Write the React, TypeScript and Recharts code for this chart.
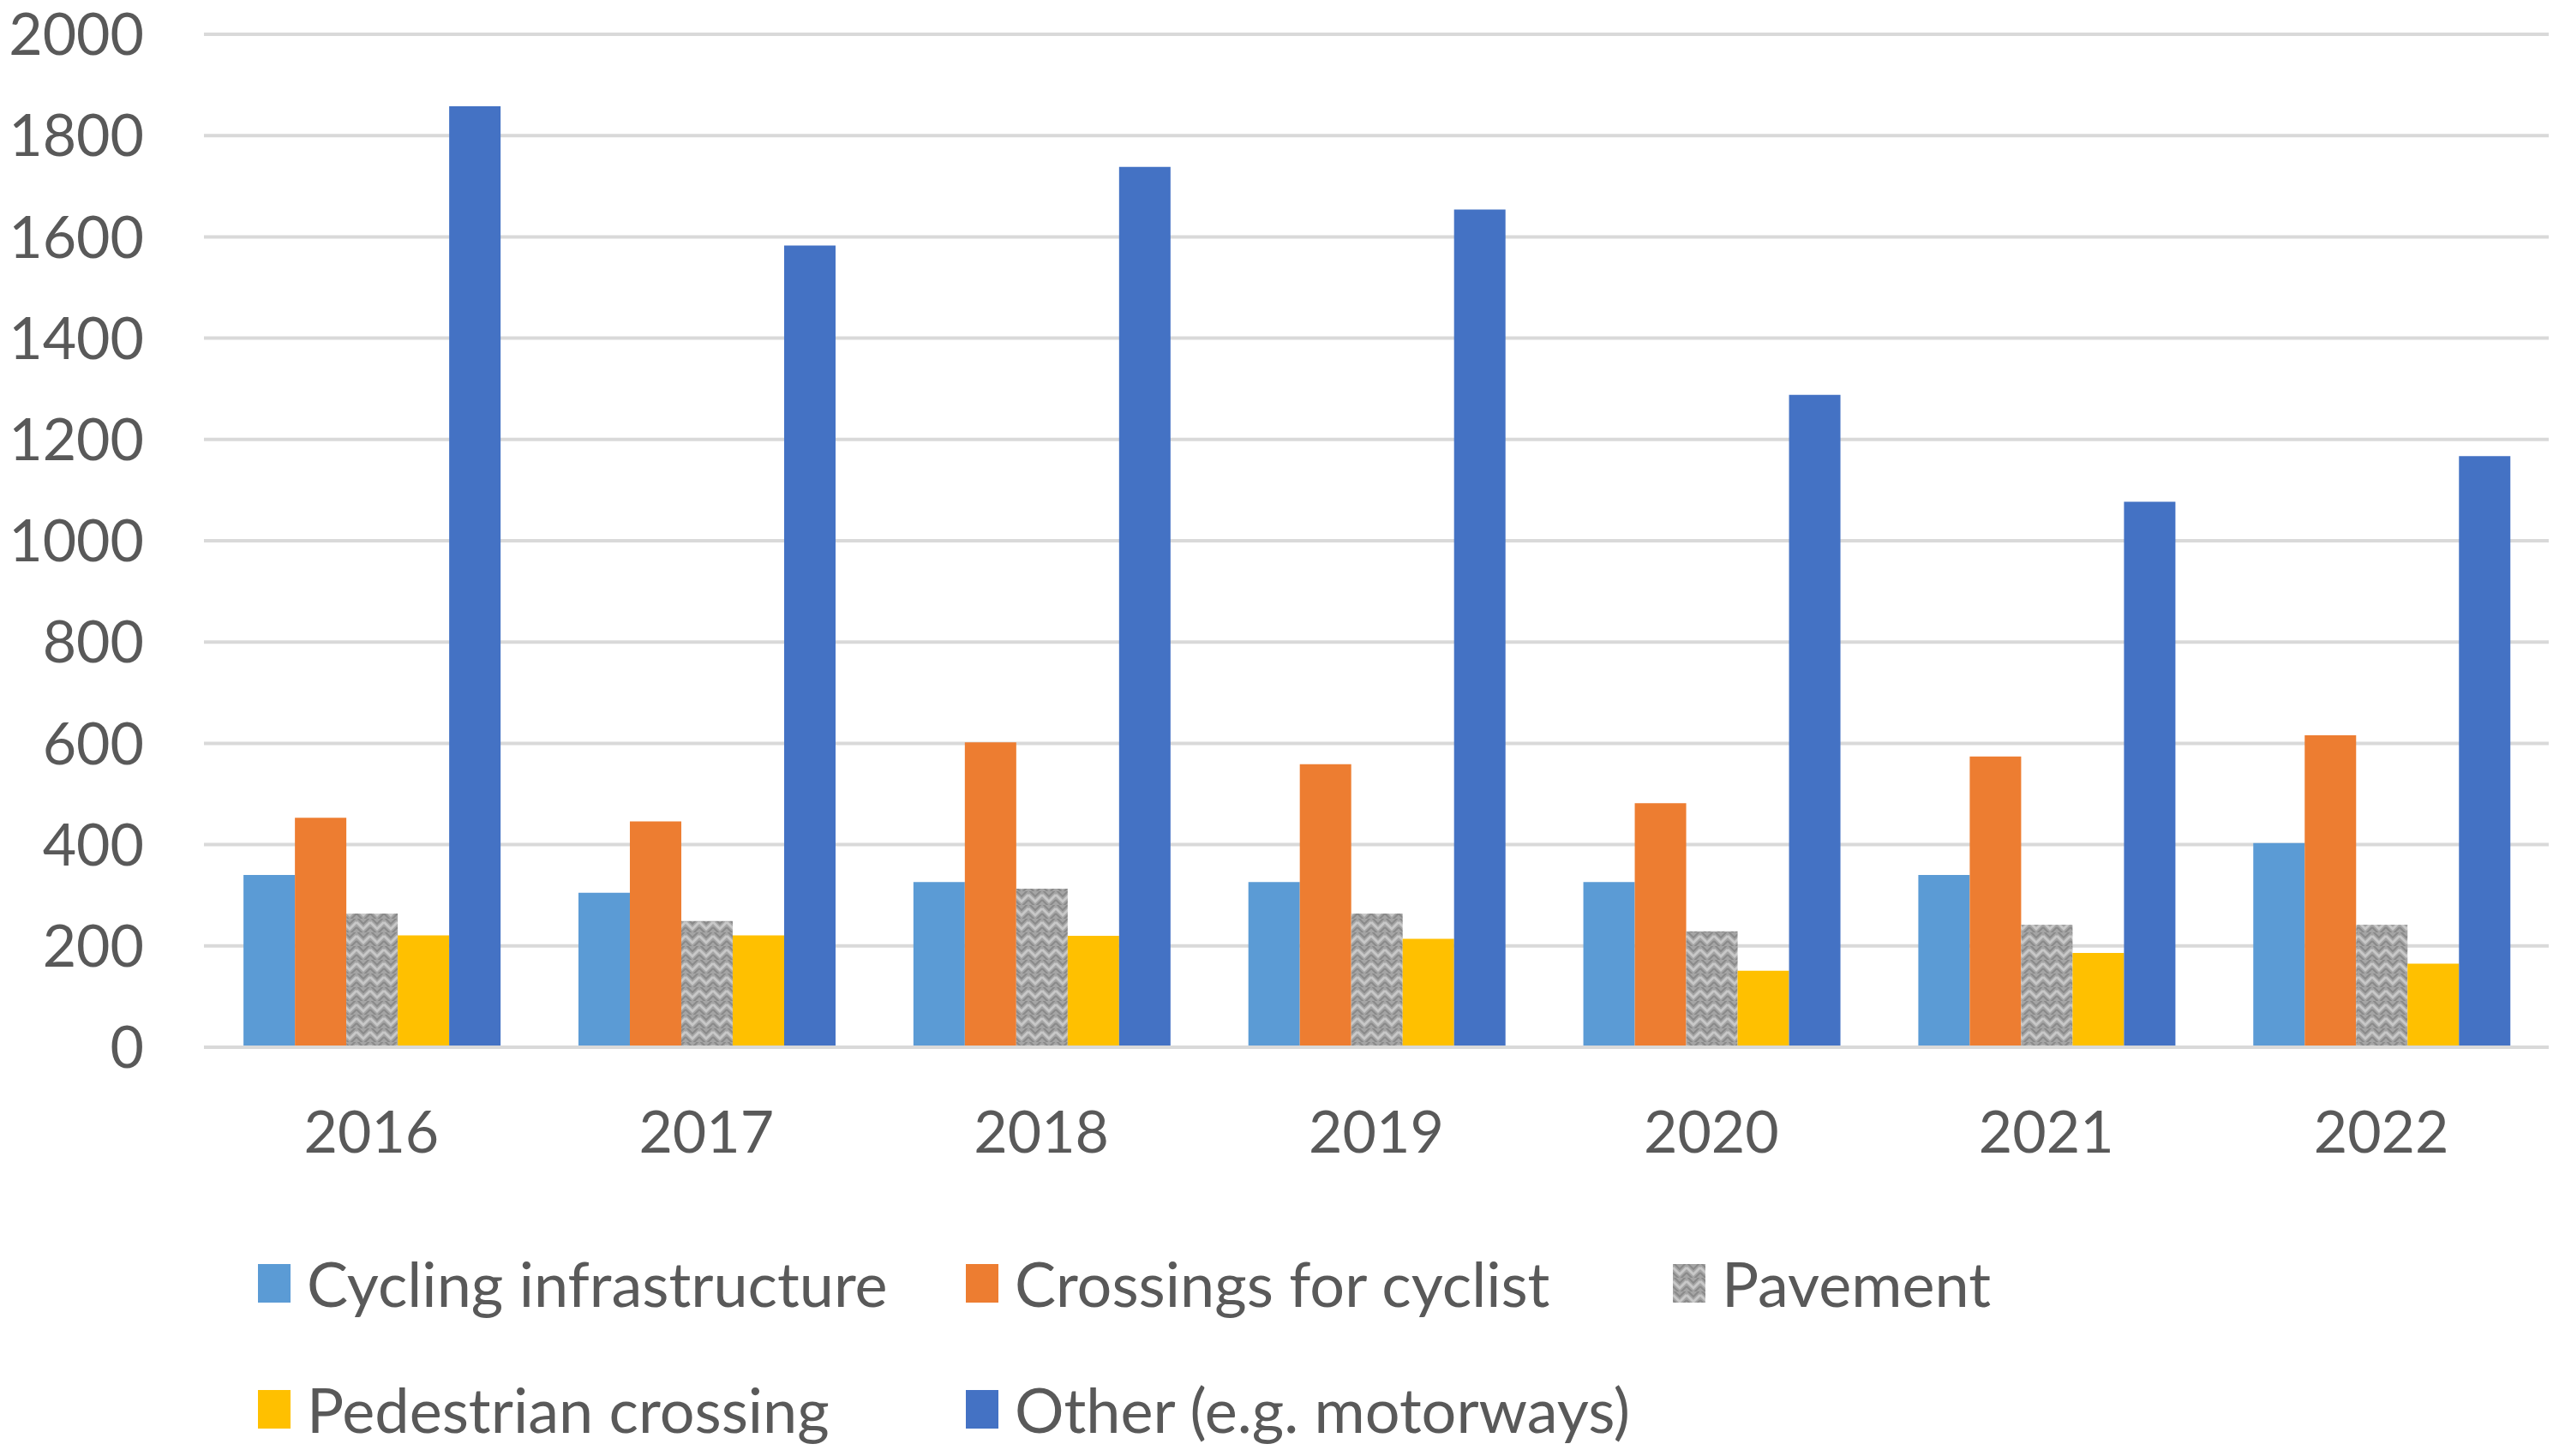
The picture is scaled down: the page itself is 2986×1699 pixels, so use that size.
import React from 'react';
import { BarChart, Bar, XAxis, YAxis, CartesianGrid, Legend } from 'recharts';

// Values
const years = ['2016', '2017', '2018', '2019', '2020', '2021', '2022'];
const cyclingInfrastructure = [340, 305, 326, 326, 326, 340, 403];
const crossingsForCyclist = [453, 446, 602, 559, 482, 574, 616];
const pavement = [264, 249, 313, 264, 229, 242, 242];
const pedestrianCrossing = [221, 221, 220, 214, 151, 186, 165];
const otherMotorways = [1858, 1583, 1738, 1654, 1288, 1077, 1167];
const yTicks = [0, 200, 400, 600, 800, 1000, 1200, 1400, 1600, 1800, 2000];
const seriesNames = [
  'Cycling infrastructure',
  'Crossings for cyclist',
  'Pavement',
  'Pedestrian crossing',
  'Other (e.g. motorways)',
];

const data = years.map((year, i) => ({
  year,
  cycling: cyclingInfrastructure[i],
  crossings: crossingsForCyclist[i],
  pavement: pavement[i],
  pedestrian: pedestrianCrossing[i],
  other: otherMotorways[i],
}));

const FONT = 'Lato, "Noto Sans", sans-serif';
const TEXT = '#595959';

const COLORS = {
  cycling: '#5b9bd5',
  crossings: '#ed7d31',
  pavement: 'url(#pavementPattern)',
  pedestrian: '#ffc000',
  other: '#4472c4',
  grid: '#d9d9d9',
};

// legend slot positions (two rows, three columns)
const LEGEND_COLS = [301, 1127, 1952];
const LEGEND_ROWS = [125, 272];

function ChartLegend({ payload }: any) {
  // keep series order (recharts sorts by name otherwise)
  const items = [...(payload || [])].sort(
    (a: any, b: any) => seriesNames.indexOf(a.value) - seriesNames.indexOf(b.value)
  );
  return (
    <div style={{ position: 'relative', width: 2974, height: 327 }}>
      {items.map((entry: any, i: number) => {
        const row = i < 3 ? 0 : 1;
        const col = i < 3 ? i : i - 3;
        return (
          <div
            key={entry.value}
            style={{
              position: 'absolute',
              left: LEGEND_COLS[col],
              top: LEGEND_ROWS[row] - 40,
              height: 80,
              display: 'flex',
              alignItems: 'center',
              whiteSpace: 'nowrap',
            }}
          >
            <svg width={38} height={45} style={{ display: 'block' }}>
              <rect width={38} height={45} fill={entry.color} />
            </svg>
            <span
              style={{
                marginLeft: 19,
                fontFamily: FONT,
                fontSize: 72,
                color: TEXT,
              }}
            >
              {entry.value}
            </span>
          </div>
        );
      })}
    </div>
  );
}

export default function App() {
  return (
    <div style={{ position: 'absolute', left: 0, top: 0, background: '#fff' }}>
      <BarChart
        width={2986}
        height={1699}
        data={data}
        margin={{ top: 40, right: 12, bottom: 0, left: 0 }}
        barCategoryGap="11.8%"
        barGap={0}
      >
        <defs>
          <pattern
            id="pavementPattern"
            width={16}
            height={16}
            patternUnits="userSpaceOnUse"
          >
            <rect width={16} height={16} fill="#a5a5a5" />
            <path
              d="M0 4 L8 12 L16 4"
              fill="none"
              stroke="#c8c8c8"
              strokeWidth={3}
            />
            <path
              d="M0 10 L8 18 L16 10 M0 -2 L8 6 L16 -2"
              fill="none"
              stroke="#8a8a8a"
              strokeWidth={2}
            />
          </pattern>
        </defs>
        <CartesianGrid
          vertical={false}
          stroke={COLORS.grid}
          strokeWidth={4}
        />
        <XAxis
          dataKey="year"
          height={150}
          tickLine={false}
          tickSize={0}
          tickMargin={75}
          axisLine={{ stroke: COLORS.grid, strokeWidth: 4 }}
          tick={{ fontSize: 68, fill: TEXT, fontFamily: FONT }}
        />
        <YAxis
          width={238}
          domain={[0, 2000]}
          ticks={yTicks}
          interval={0}
          tickLine={false}
          axisLine={false}
          tickSize={0}
          tickMargin={70}
          tick={{ fontSize: 68, fill: TEXT, fontFamily: FONT }}
        />
        <Legend verticalAlign="bottom" content={<ChartLegend />} />
        <Bar dataKey="cycling" name={seriesNames[0]} fill={COLORS.cycling} isAnimationActive={false} />
        <Bar dataKey="crossings" name={seriesNames[1]} fill={COLORS.crossings} isAnimationActive={false} />
        <Bar dataKey="pavement" name={seriesNames[2]} fill={COLORS.pavement} isAnimationActive={false} />
        <Bar dataKey="pedestrian" name={seriesNames[3]} fill={COLORS.pedestrian} isAnimationActive={false} />
        <Bar dataKey="other" name={seriesNames[4]} fill={COLORS.other} isAnimationActive={false} />
      </BarChart>
    </div>
  );
}
